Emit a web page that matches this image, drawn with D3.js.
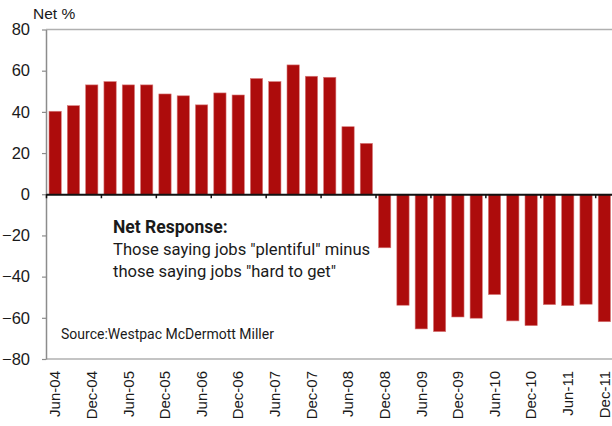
<!DOCTYPE html>
<html>
<head>
<meta charset="utf-8">
<script src="https://cdn.jsdelivr.net/npm/d3@7"></script>
<style>
  body { margin: 0; background: #fff; }
  svg { display: block; }
</style>
</head>
<body>
<svg id="chart" width="612" height="426"></svg>
<script>
// ── DATA ─────────────────────────────────────────────
const quarters = [
  "Jun-04","Sep-04","Dec-04","Mar-05","Jun-05","Sep-05","Dec-05","Mar-06",
  "Jun-06","Sep-06","Dec-06","Mar-07","Jun-07","Sep-07","Dec-07","Mar-08",
  "Jun-08","Sep-08","Dec-08","Mar-09","Jun-09","Sep-09","Dec-09","Mar-10",
  "Jun-10","Sep-10","Dec-10","Mar-11","Jun-11","Sep-11","Dec-11"
];
const netResponse = [
  40.3, 43.0, 53.1, 54.7, 53.1, 53.1, 48.7, 47.8,
  43.4, 49.2, 48.2, 56.2, 54.7, 62.8, 57.3, 56.8,
  32.8, 24.7, -26.0, -53.9, -65.4, -66.7, -59.6, -60.2,
  -48.7, -61.5, -63.8, -53.6, -54.1, -53.4, -61.9
];
const yTicks = [-80, -60, -40, -20, 0, 20, 40, 60, 80];
const noteLines = ['Those saying jobs "plentiful" minus', 'those saying jobs "hard to get"'];

// ── LAYOUT ───────────────────────────────────────────
const plotLeft = 46, plotRight = 613.5, plotTop = 29.5, plotBottom = 359;
const svg = d3.select("#chart");

const xScale = d3.scaleBand()
  .domain(quarters)
  .range([plotLeft, plotRight])
  .paddingInner(0.33)
  .paddingOuter(0.165);

// boundary scale for the tick marks on the zero line
const xEdge = d3.scaleLinear().domain([0, quarters.length]).range([plotLeft, plotRight]);

const yScale = d3.scaleLinear().domain([-80, 80]).range([plotBottom, plotTop]);

// frame lines
svg.append("line")
  .attr("x1", plotLeft).attr("x2", 612)
  .attr("y1", plotTop).attr("y2", plotTop)
  .attr("stroke", "#b0b0b0").attr("stroke-width", 1.5);
svg.append("line")
  .attr("x1", plotLeft).attr("x2", 612)
  .attr("y1", plotBottom).attr("y2", plotBottom)
  .attr("stroke", "#b0b0b0").attr("stroke-width", 1.5);

// bars
svg.append("g")
  .selectAll("rect")
  .data(netResponse)
  .join("rect")
    .attr("x", (d, i) => xScale(quarters[i]))
    .attr("width", xScale.bandwidth())
    .attr("y", d => yScale(Math.max(0, d)))
    .attr("height", d => Math.abs(yScale(d) - yScale(0)))
    .attr("fill", "#ad0c0c")
    .attr("stroke", "#d87a7a")
    .attr("stroke-width", 0.6);

// y axis
const yAxis = svg.append("g")
  .attr("transform", `translate(${plotLeft},0)`)
  .call(d3.axisLeft(yScale).tickValues(yTicks).tickSize(4).tickPadding(12).tickSizeOuter(0));
yAxis.select(".domain").attr("stroke", "#8c8c8c").attr("stroke-width", 1.5);
yAxis.selectAll(".tick line").attr("stroke", "#8c8c8c").attr("stroke-width", 1.2);
yAxis.selectAll("text")
  .attr("fill", "#1a1a1a")
  .style("font-family", "'Liberation Sans', Arial, sans-serif")
  .style("font-size", "16.5px");

// zero line with ticks every 3 quarters
const zeroAxis = svg.append("g")
  .attr("transform", `translate(0,${yScale(0)})`)
  .call(d3.axisBottom(xEdge).tickValues(d3.range(0, quarters.length, 3)).tickSize(4).tickSizeOuter(0).tickFormat(""));
zeroAxis.select(".domain").attr("stroke", "#111").attr("stroke-width", 2);
zeroAxis.selectAll(".tick line").attr("stroke", "#111").attr("stroke-width", 1.5);

// x labels every 6 months
const xAxis = svg.append("g")
  .attr("transform", `translate(0,${plotBottom})`)
  .call(d3.axisBottom(xScale).tickValues(quarters.filter((q, i) => i % 2 === 0)).tickSize(0));
xAxis.select(".domain").remove();
xAxis.selectAll("text")
  .attr("transform", "rotate(-90)")
  .attr("x", -12)
  .attr("y", 0)
  .attr("dy", "0.35em")
  .attr("text-anchor", "end")
  .attr("fill", "#1a1a1a")
  .style("font-family", "'Liberation Sans', Arial, sans-serif")
  .style("font-size", "15px");

// titles & notes
svg.append("text")
  .attr("x", 33).attr("y", 19)
  .attr("fill", "#1a1a1a")
  .style("font-family", "'Liberation Sans', Arial, sans-serif")
  .style("font-size", "15.5px")
  .text("Net %");

const note = svg.append("text")
  .attr("fill", "#1a1a1a")
  .style("font-family", "Roboto, sans-serif")
  .style("font-size", "16.6px");
note.append("tspan")
  .attr("x", 113).attr("y", 233)
  .style("font-weight", "700")
  .style("font-size", "17.5px")
  .text("Net Response:");
noteLines.forEach((t, i) => {
  note.append("tspan")
    .attr("x", 113).attr("y", 255 + i * 21.5)
    .text(t);
});

svg.append("text")
  .attr("x", 61).attr("y", 339)
  .attr("fill", "#1a1a1a")
  .style("font-family", "Roboto, sans-serif")
  .style("font-size", "14px")
  .text("Source:Westpac McDermott Miller");
</script>
</body>
</html>
